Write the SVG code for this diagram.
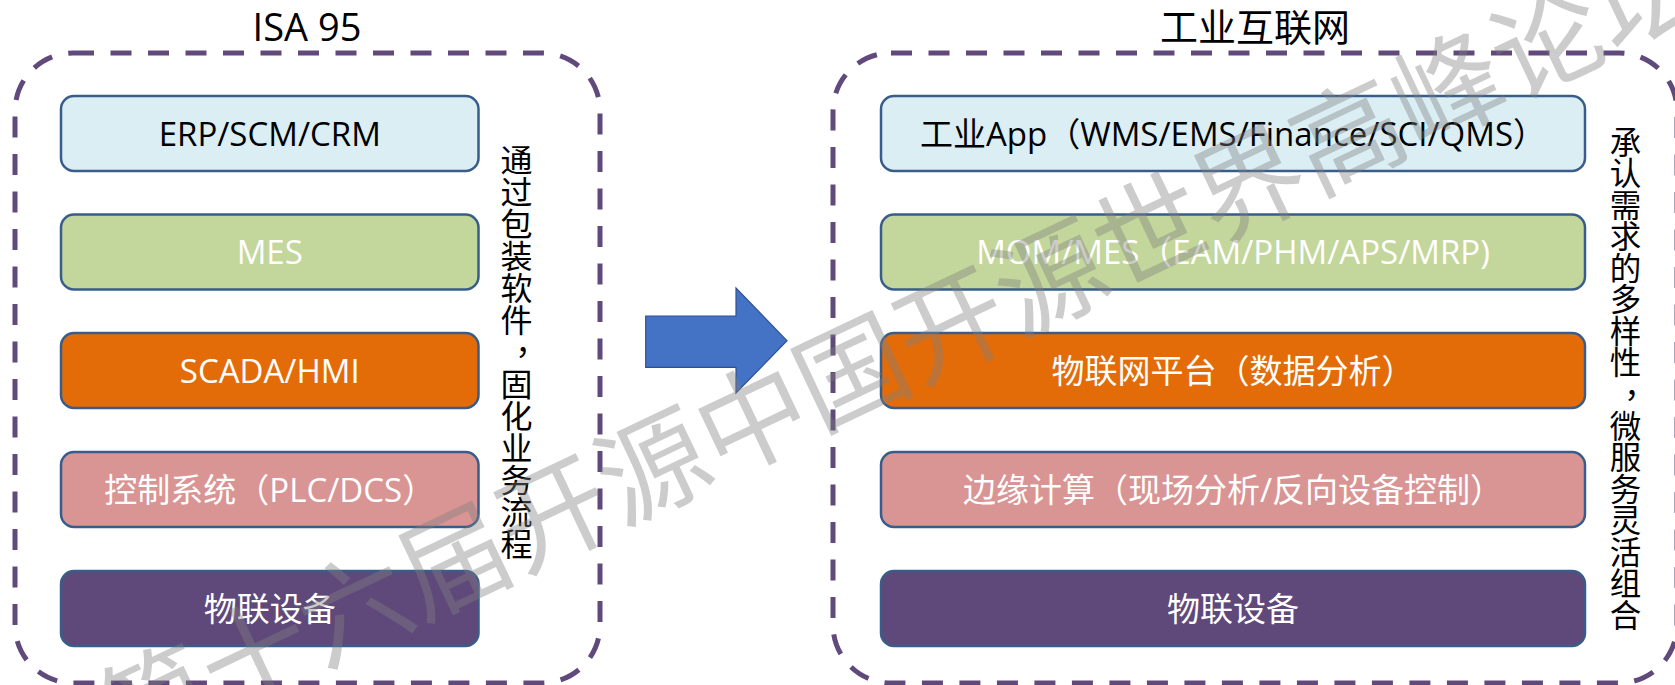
<svg xmlns="http://www.w3.org/2000/svg" width="1675" height="685" viewBox="0 0 1675 685">
  <style>
    text { font-family: 'Open Sans', 'Noto Sans CJK SC', sans-serif; }
    .frame { fill: none; stroke: #604A7B; stroke-width: 5; stroke-dasharray: 21 16.5; }
    .title { font-size: 38px; fill: #000; text-anchor: middle; }
    .layer rect { stroke: #385D8A; stroke-width: 2.5; }
    .layer text { font-size: 33px; text-anchor: middle; }
    .dark { fill: #000; }
    .light { fill: #fff; }
    .blue { fill: #DAEEF3; }
    .green { fill: #C3D69B; }
    .orange { fill: #E36C09; }
    .pink { fill: #D99594; }
    .purple { fill: #5F497A; }
    .note { font-size: 32px; fill: #000; writing-mode: vertical-rl; }
    .mark { font-size: 110px; fill: #7F7F7F; fill-opacity: 0.4; text-anchor: middle; dominant-baseline: central; }
  </style>

  <!-- left frame: ISA 95 stack -->
  <g id="isa95">
    <rect class="frame" x="15" y="53" width="585" height="630" rx="58" ry="58"/>
    <text class="title" x="307" y="41">ISA 95</text>
    <!-- the comma is nudged down to sit mid-cell in the vertical column -->
    <text class="note" x="515" y="144"><tspan>通过包装软件</tspan><tspan dx="-2" dy="11">，</tspan><tspan dx="2" dy="-11">固化业务流程</tspan></text>
  </g>

  <g id="isa-erp" class="layer">
    <rect class="blue" x="61" y="96" width="417.5" height="75" rx="13"/>
    <text class="dark" x="269.75" y="145.5">ERP/SCM/CRM</text>
  </g>
  <g id="isa-mes" class="layer">
    <rect class="green" x="61" y="214.5" width="417.5" height="75" rx="13"/>
    <text class="light" x="269.75" y="264">MES</text>
  </g>
  <g id="isa-scada" class="layer">
    <rect class="orange" x="61" y="333" width="417.5" height="75" rx="13"/>
    <text class="light" x="269.75" y="382.5">SCADA/HMI</text>
  </g>
  <g id="isa-control" class="layer">
    <rect class="pink" x="61" y="452" width="417.5" height="75" rx="13"/>
    <text class="light" x="269.75" y="501.5">控制系统（PLC/DCS）</text>
  </g>
  <g id="isa-devices" class="layer">
    <rect class="purple" x="61" y="571" width="417.5" height="75" rx="13"/>
    <text class="light" x="269.75" y="620.5">物联设备</text>
  </g>

  <!-- transition arrow -->
  <g id="connectors">
    <polygon points="645.7,316 736,316 736,288 787,340.7 736,393 736,367.3 645.7,367.3" fill="#4472C4" stroke="#2F528F" stroke-width="1.2"/>
  </g>

  <!-- right frame: industrial internet stack -->
  <g id="iiot">
    <rect class="frame" x="833" y="53" width="844" height="630" rx="58" ry="58"/>
    <text class="title" x="1255" y="41">工业互联网</text>
    <text class="note" x="1624" y="126" style="font-size:31.5px"><tspan>承认需求的多样性</tspan><tspan dx="-2" dy="12">，</tspan><tspan dx="2" dy="-12">微服务灵活组合</tspan></text>
  </g>

  <g id="iiot-app" class="layer">
    <rect class="blue" x="881" y="96" width="704" height="75" rx="13"/>
    <text class="dark" x="1233" y="145.5">工业App（WMS/EMS/Finance/SCI/QMS）</text>
  </g>
  <g id="iiot-mom" class="layer">
    <rect class="green" x="881" y="214.5" width="704" height="75" rx="13"/>
    <text class="light" x="1233" y="264">MOM/MES（EAM/PHM/APS/MRP)</text>
  </g>
  <g id="iiot-platform" class="layer">
    <rect class="orange" x="881" y="333" width="704" height="75" rx="13"/>
    <text class="light" x="1233" y="382.5">物联网平台（数据分析）</text>
  </g>
  <g id="iiot-edge" class="layer">
    <rect class="pink" x="881" y="452" width="704" height="75" rx="13"/>
    <text class="light" x="1233" y="501.5">边缘计算（现场分析/反向设备控制）</text>
  </g>
  <g id="iiot-devices" class="layer">
    <rect class="purple" x="881" y="571" width="704" height="75" rx="13"/>
    <text class="light" x="1233" y="620.5">物联设备</text>
  </g>

  <!-- diagonal watermark across the whole sheet -->
  <text class="mark" x="900" y="346" transform="rotate(-25.4 900 346)">第十六届开源中国开源世界高峰论坛</text>
</svg>
